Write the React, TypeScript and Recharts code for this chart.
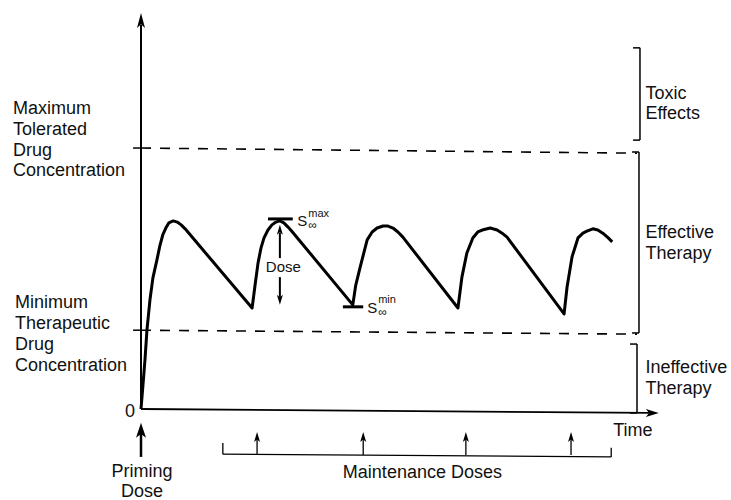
import React from 'react';
import { LineChart, Line, XAxis, YAxis, ReferenceLine, ReferenceDot } from 'recharts';

// ---- data (time units 0..100, concentration units 0..100) ----
const curveTime = [
  0, 0.4, 0.8, 1.2, 1.8, 2.4, 3.2, 3.8, 4.4, 5.0, 5.6, 6.5, 7.3, 8.1, 8.9, 22.4,
  23.0, 23.6, 24.2, 24.8, 25.6, 26.4, 27.2, 28.0, 28.8, 29.6, 30.4, 42.7,
  43.3, 44.2, 45.6, 46.6, 47.6, 48.8, 49.8, 50.8, 51.8, 52.8, 63.9,
  64.7, 65.7, 66.9, 67.9, 68.8, 70.4, 71.8, 72.8, 73.8, 85.3,
  85.9, 86.9, 88.1, 89.1, 89.9, 91.1, 92.1, 93.1, 94.2, 95.0,
];
const curveConc = [
  0, 6.1, 12.4, 19.9, 27.5, 33.1, 37.6, 41.2, 44.0, 45.7, 47.0, 47.5, 47.2, 46.5, 45.5, 25.5,
  31.3, 36.9, 40.7, 43.2, 45.2, 46.5, 47.2, 47.5, 47.0, 46.0, 44.9, 26.3,
  31.3, 35.9, 42.7, 44.7, 45.7, 46.2, 46.2, 45.7, 44.7, 43.4, 25.5,
  33.3, 39.4, 43.2, 44.7, 45.2, 45.7, 45.2, 44.4, 43.4, 24.0,
  30.8, 38.4, 43.2, 44.4, 44.9, 45.5, 45.2, 44.4, 43.2, 42.2,
];
const data = curveTime.map((t, i) => ({ t, c: curveConc[i] }));

// threshold levels [at time 0, at time 100] (scan is slightly skewed)
const maxTolerated = [65.9, 64.6];
const minTherapeutic = [19.9, 18.9];

// right-hand bands: [low, high, bracket time]
const bandLabels = [['Toxic', 'Effects'], ['Effective', 'Therapy'], ['Ineffective', 'Therapy']];
const bandLow = [67.9, 19.2, -1.0];
const bandHigh = [91.2, 64.9, 16.4];
const bandX = [100.6, 100.4, 100.0];

const primingDose = 0;
const maintenanceDoses = [23.4, 44.8, 65.5, 86.7];

const sMax = { t0: 25.6, t1: 30.6, c: 48.0 };
const sMin = { t0: 40.7, t1: 44.8, c: 25.8 };

const FONT = '"Liberation Sans", Arial, Helvetica, sans-serif';

const textBlock = (lines: string[], size: number, lh: number, anchor: string) => (p: any) => {
  const { cx, cy } = p;
  return (
    <text x={cx} y={cy} fontSize={size} fontFamily={FONT} fill="#111" textAnchor={anchor}>
      {lines.map((l, i) => (
        <tspan key={i} x={cx} dy={i === 0 ? 0 : lh}>{l}</tspan>
      ))}
    </text>
  );
};

const sLabel = (sup: string, supDy: number) => (p: any) => {
  const { cx, cy } = p;
  return (
    <text fontFamily={FONT} fill="#111">
      <tspan x={cx} y={cy + 6} fontSize={15}>S</tspan>
      <tspan x={cx + 11} y={cy + supDy} fontSize={11}>{sup}</tspan>
      <tspan x={cx + 11} y={cy + 9} fontSize={12}>∞</tspan>
    </text>
  );
};

const upHead = (w: number, h: number) => (p: any) => {
  const { cx, cy } = p;
  return <path d={`M${cx},${cy} L${cx - w / 2},${cy + h} L${cx},${cy + h * 0.75} L${cx + w / 2},${cy + h} Z`} fill="#000" />;
};
const downHead = (w: number, h: number) => (p: any) => {
  const { cx, cy } = p;
  return <path d={`M${cx},${cy} L${cx - w / 2},${cy - h} L${cx},${cy - h * 0.75} L${cx + w / 2},${cy - h} Z`} fill="#000" />;
};
const rightHead = (w: number, h: number) => (p: any) => {
  const { cx, cy } = p;
  return <path d={`M${cx},${cy} L${cx - h},${cy - w / 2} L${cx - h * 0.75},${cy} L${cx - h},${cy + w / 2} Z`} fill="#000" />;
};

const seg = (key: string, x1: number, y1: number, x2: number, y2: number, sw = 1.5, dash?: string) => (
  <ReferenceLine
    key={key}
    segment={[{ x: x1, y: y1 }, { x: x2, y: y2 }]}
    stroke="#000"
    strokeWidth={sw}
    strokeDasharray={dash}
    ifOverflow="visible"
  />
);

const dot = (key: string, x: number, y: number, shape: any) => (
  <ReferenceDot key={key} x={x} y={y} r={0} shape={shape} ifOverflow="visible" />
);

export default function App() {
  const tick = 1.4;
  return (
    <div style={{ position: 'absolute', left: 0, top: 0, width: 731, height: 500, background: '#fff' }}>
      <LineChart width={731} height={500} data={data} margin={{ top: 13, right: 94, bottom: 91, left: 141 }}>
        <XAxis type="number" dataKey="t" domain={[0, 100]} hide />
        <YAxis type="number" domain={[0, 100]} hide />

        {/* axes */}
        {seg('yaxis', 0, 0, 0, 97, 2)}
        {dot('yhead', 0, 100, upHead(8, 15))}
        {seg('xaxis', 0, 0, 102.5, -1.0, 1.8)}
        {dot('xhead', 104.4, -1.0, rightHead(8, 13))}
        {dot('zero', -1.2, -1.9, textBlock(['0'], 18, 20, 'end'))}
        {dot('time', 95.2, -6.9, textBlock(['Time'], 18, 20, 'start'))}

        {/* threshold lines with small ticks on the y axis */}
        {seg('maxl', 0, maxTolerated[0], 100, maxTolerated[1], 1.6, '10 9')}
        {seg('minl', 0, minTherapeutic[0], 100, minTherapeutic[1], 1.6, '10 9')}
        {seg('maxt', -1.6, maxTolerated[0], 0, maxTolerated[0], 1.5)}
        {seg('mint', -1.6, minTherapeutic[0], 0, minTherapeutic[0], 1.5)}
        {dot('maxlab', -25.8, 74.4, textBlock(['Maximum', 'Tolerated', 'Drug', 'Concentration'], 18, 20.7, 'start'))}
        {dot('minlab', -25.4, 25.4, textBlock(['Minimum', 'Therapeutic', 'Drug', 'Concentration'], 18, 21, 'start'))}

        {/* right brackets */}
        {bandLabels.map((lab, i) => [
          seg(`bv${i}`, bandX[i], bandLow[i], bandX[i], bandHigh[i], 1.5),
          seg(`bt${i}`, bandX[i] - tick, bandHigh[i], bandX[i], bandHigh[i], 1.5),
          seg(`bb${i}`, bandX[i] - tick, bandLow[i], bandX[i], bandLow[i], 1.5),
          dot(`bl${i}`, 101.7, [78.4, 43.1, 9.0][i], textBlock(lab, 18, 20.5, 'start')),
        ])}

        {/* concentration curve */}
        <Line dataKey="c" type="linear" stroke="#000" strokeWidth={3} dot={false} isAnimationActive={false} strokeLinejoin="round" />

        {/* steady-state markers */}
        {seg('smax', sMax.t0, sMax.c, sMax.t1, sMax.c, 3)}
        {dot('smaxl', 31.5, 47.7, sLabel('max', -3))}
        {seg('smin', sMin.t0, sMin.c, sMin.t1, sMin.c, 3)}
        {dot('sminl', 45.6, 25.8, sLabel('min', -4))}

        {/* dose arrow */}
        {seg('dup', 28.0, 38.1, 28.0, 44.5, 2)}
        {dot('duph', 28.0, 46.5, upHead(6, 10))}
        {seg('ddn', 28.0, 33.3, 28.0, 28.3, 2)}
        {dot('ddnh', 28.0, 26.3, downHead(6, 10))}
        {dot('dlab', 28.7, 34.6, textBlock(['Dose'], 15, 18, 'middle'))}

        {/* priming dose */}
        {seg('prim', primingDose, -12.1, primingDose, -5.5, 2.5)}
        {dot('primh', primingDose, -3.5, upHead(10, 15))}
        {dot('priml', 0.2, -17.2, textBlock(['Priming', 'Dose'], 18, 20, 'middle'))}

        {/* maintenance doses */}
        {seg('mbl', 16.5, -8.6, 16.5, -11.4, 1.3)}
        {seg('mbh', 16.5, -11.4, 94.8, -12.1, 1.3)}
        {seg('mbr', 94.8, -9.8, 94.8, -12.1, 1.3)}
        {maintenanceDoses.map((t, i) => [
          seg(`ms${i}`, t, -11.6, t, -7.5, 1.3),
          dot(`mh${i}`, t, -5.8, upHead(6, 10)),
        ])}
        {dot('mlab', 40.7, -17.4, textBlock(['Maintenance Doses'], 18, 20, 'start'))}
      </LineChart>
    </div>
  );
}
